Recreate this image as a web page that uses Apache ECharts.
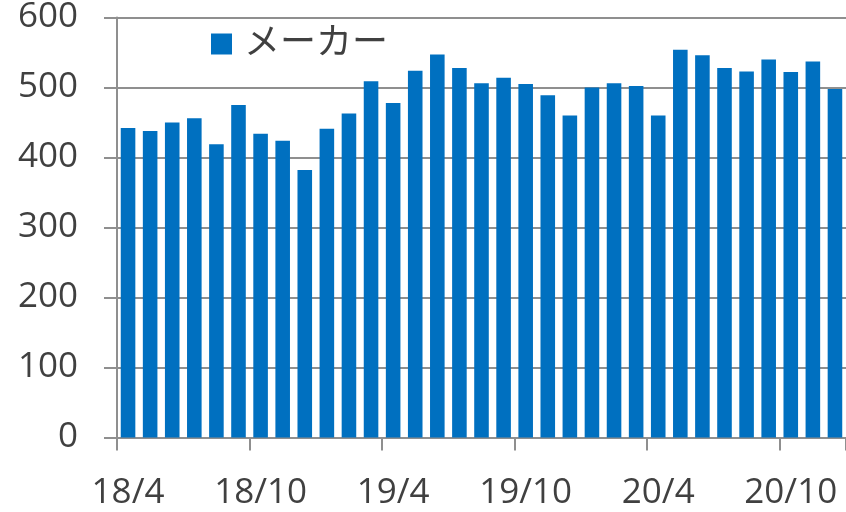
<!DOCTYPE html>
<html><head><meta charset="utf-8">
<script src="https://cdn.jsdelivr.net/npm/echarts@6/dist/echarts.min.js"></script>
<style>html,body{margin:0;padding:0;background:#fff}#c{width:846px;height:512px}</style>
</head><body><div id="c"></div>
<script>
const categories = ['18/4','18/5','18/6','18/7','18/8','18/9','18/10','18/11','18/12','19/1','19/2','19/3',
  '19/4','19/5','19/6','19/7','19/8','19/9','19/10','19/11','19/12','20/1','20/2','20/3',
  '20/4','20/5','20/6','20/7','20/8','20/9','20/10','20/11','20/12'];
const seriesName = 'メーカー';
const values = [442,438,450,456,419,475,434,424,382,441,463,509,
  478,524,547,528,506,514,505,489,460,500,506,502,
  460,554,546,528,523,540,522,537,498];
const yTicks = {min:0, max:600, interval:100};

const font = "'Open Sans', 'Noto Sans CJK JP', sans-serif";
const gray = '#8f8f8f';
const txt = '#404040';
const chart = echarts.init(document.getElementById('c'), null, {renderer:'canvas'});
chart.setOption({
  animation:false,
  grid:{left:117, right:0, top:14, bottom:74.5, containLabel:false},
  legend:{show:true, left:206, top:21, icon:'rect', itemWidth:21, itemHeight:21,
    textStyle:{fontFamily:font, fontSize:36, color:txt, padding:[0,0,0,7]}, data:[seriesName]},
  xAxis:{type:'category', data:categories, boundaryGap:true,
    axisLine:{lineStyle:{color:gray, width:2}},
    axisTick:{show:true, interval:5, length:13, lineStyle:{color:gray, width:2}},
    axisLabel:{interval:5, fontFamily:font, fontSize:35, color:txt, margin:38}},
  yAxis:{type:'value', min:yTicks.min, max:yTicks.max, interval:yTicks.interval,
    axisLine:{show:true, lineStyle:{color:gray, width:2}},
    axisTick:{show:true, length:13, lineStyle:{color:gray, width:2}},
    splitLine:{show:true, lineStyle:{color:gray, width:2}},
    axisLabel:{fontFamily:font, fontSize:35, color:txt, margin:39}},
  series:[{name:seriesName, type:'bar', data:values, barCategoryGap:'34%',
    itemStyle:{color:'#0070C0'}}]
});
</script></body></html>
